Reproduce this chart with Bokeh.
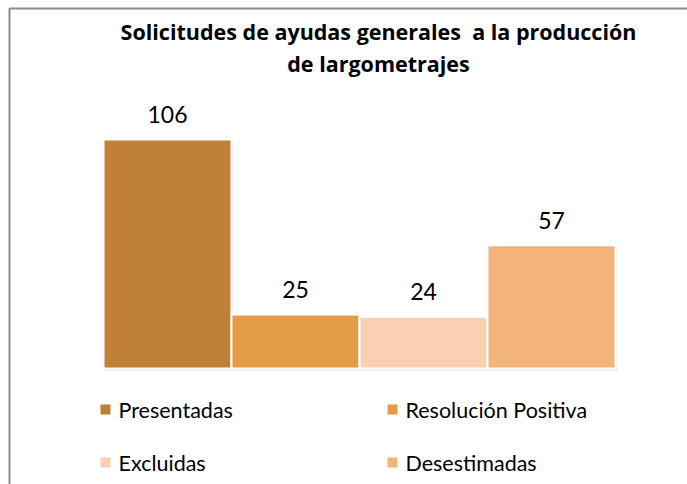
from bokeh.plotting import figure
from bokeh.models import Range1d
from bokeh.core.properties import value
from bokeh.embed import file_html
from bokeh.resources import INLINE

categories = ["Presentadas", "Resolución Positiva", "Excluidas", "Desestimadas"]
counts = [106, 25, 24, 57]
colors = ["#C08036", "#E39B45", "#F8D0B2", "#F3B47C"]
title_lines = ["Solicitudes de ayudas generales \u00a0a la producción", "de largometrajes"]

W, H = 687, 484
# pixel geometry of the plot area
bar_left_px, bar_right_px = 103, 615
base_px, top_px = 368, 139
ymax_val = 106.0
ppu_y = (base_px - top_px) / ymax_val
ppu_x = (bar_right_px - bar_left_px) / len(categories)

p = figure(width=W, height=H, output_backend="svg", toolbar_location=None,
           x_range=Range1d(0, W), y_range=Range1d(H, 0),
           min_border=0, min_border_left=0, min_border_right=0,
           min_border_top=0, min_border_bottom=0)
p.axis.visible = False
p.grid.visible = False
p.outline_line_color = None
p.background_fill_color = "white"
p.border_fill_color = "white"

# value ranges mapped onto the frame
p.extra_x_ranges = {"cat": Range1d(-bar_left_px / ppu_x, (W - bar_left_px) / ppu_x)}
p.extra_y_ranges = {"val": Range1d(-(H - base_px) / ppu_y, base_px / ppu_y)}

# outer border (left and top visible)
p.line(x=[9, 9, 700], y=[500, 8, 8], line_color="#8c8c8c", line_width=2)

xs = [i + 0.5 for i in range(len(categories))]
# subtle shadow
p.vbar(x=[x + 0.012 for x in xs], top=[c - 0.4 for c in counts], bottom=-0.9, width=1.0,
       fill_color="#d6d6d6", line_color=None, alpha=0.7,
       x_range_name="cat", y_range_name="val")
p.vbar(x=xs, top=counts, bottom=0, width=1.0, fill_color=colors,
       line_color="white", line_width=2,
       x_range_name="cat", y_range_name="val")
p.text(x=xs, y=counts, text=[str(c) for c in counts],
       text_align="center", text_baseline="alphabetic", y_offset=-25,
       text_font=value("Lato"), text_font_size="23px", text_color="#000000",
       x_range_name="cat", y_range_name="val")

# title
p.text(x=[378, 378], y=[31, 63], text=title_lines, text_align="center",
       text_baseline="middle", text_font=value("Open Sans"), text_font_style="bold",
       text_font_size="21.5px", text_color="#000000")

# legend
leg_sq_x = [105, 392, 105, 392]
leg_y = [409, 409, 462, 462]
p.scatter(x=leg_sq_x, y=leg_y, marker="square", size=10, fill_color=colors,
          line_color=None)
p.text(x=[x + 13 for x in leg_sq_x], y=leg_y, text=categories, text_align="left",
       text_baseline="middle", text_font=value("Lato"), text_font_size="21.5px",
       text_color="#000000")

open("out.html", "w").write(file_html(p, INLINE))
